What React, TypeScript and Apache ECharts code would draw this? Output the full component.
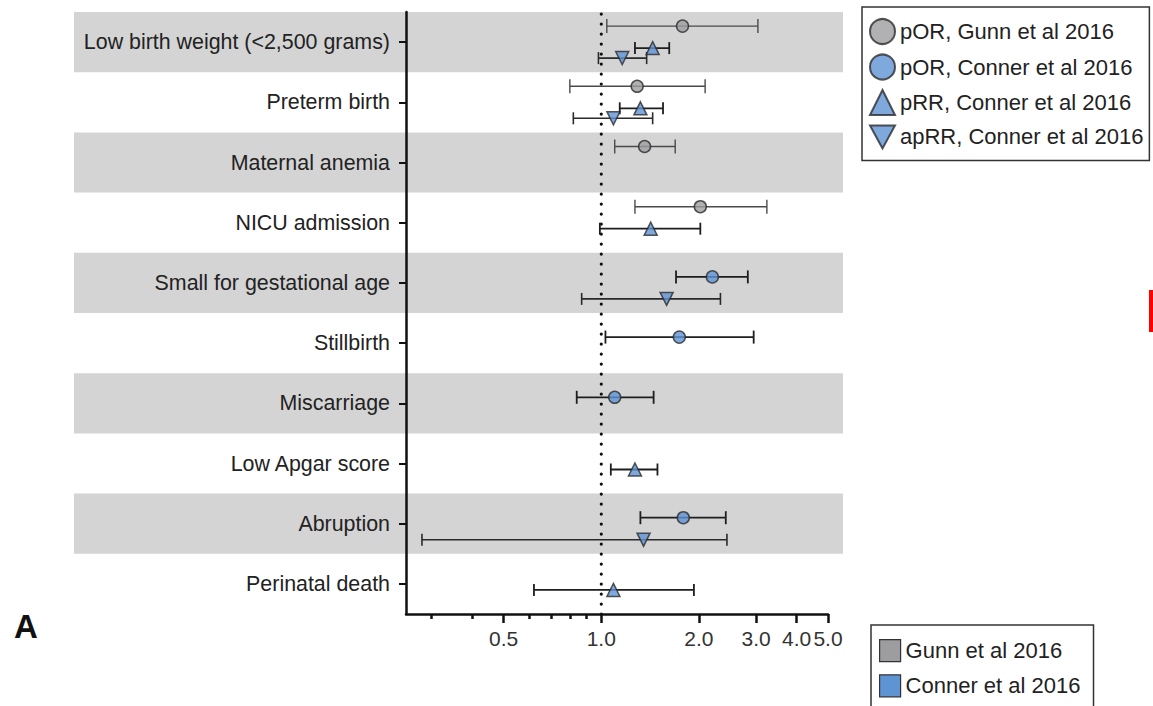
import React, { useEffect, useRef } from "react";
import * as echarts from "echarts";

const categories = [
  "Low birth weight (<2,500 grams)",
  "Preterm birth",
  "Maternal anemia",
  "NICU admission",
  "Small for gestational age",
  "Stillbirth",
  "Miscarriage",
  "Low Apgar score",
  "Abruption",
  "Perinatal death",
];

// pOR, Gunn et al 2016
const gunnPOR = [1.78, 1.29, 1.36, 2.02, null, null, null, null, null, null];
const gunnPORLow = [1.04, 0.8, 1.1, 1.27, null, null, null, null, null, null];
const gunnPORHigh = [3.04, 2.09, 1.69, 3.24, null, null, null, null, null, null];

// pOR, Conner et al 2016
const connerPOR = [null, null, null, null, 2.2, 1.74, 1.1, null, 1.79, null];
const connerPORLow = [null, null, null, null, 1.7, 1.03, 0.84, null, 1.32, null];
const connerPORHigh = [null, null, null, null, 2.83, 2.95, 1.45, null, 2.42, null];

// pRR, Conner et al 2016
const connerPRR = [1.44, 1.32, null, 1.42, null, null, null, 1.27, null, 1.09];
const connerPRRLow = [1.27, 1.14, null, 0.99, null, null, null, 1.07, null, 0.62];
const connerPRRHigh = [1.62, 1.55, null, 2.02, null, null, null, 1.49, null, 1.93];

// apRR, Conner et al 2016
const connerAPRR = [1.16, 1.09, null, null, 1.59, null, null, null, 1.35, null];
const connerAPRRLow = [0.98, 0.82, null, null, 0.87, null, null, null, 0.28, null];
const connerAPRRHigh = [1.38, 1.44, null, null, 2.33, null, null, null, 2.44, null];

const majorTicks = [0.5, 1, 2, 3, 4, 5];
const minorTicks = [0.3, 0.4, 0.6, 0.7, 0.8, 0.9];
const xMinValue = 0.25;
const xMaxValue = 5;
const referenceValue = 1;

const shadedRows = [0, 2, 4, 6, 8];

const FONT = "'Liberation Sans', Arial, Helvetica, sans-serif";
const GRAY = "#9d9da0";
const BLUE = "#5f94d4";
const LMIN = Math.log10(xMinValue);
const LMAX = Math.log10(xMaxValue);
const lg = (v: number) => Math.log10(v);

function points(vals: (number | null)[]) {
  const out: number[][] = [];
  vals.forEach((v, i) => {
    if (v != null) out.push([lg(v), i]);
  });
  return out;
}

function intervals(lo: (number | null)[], hi: (number | null)[]) {
  const out: number[][] = [];
  lo.forEach((v, i) => {
    const h = hi[i];
    if (v != null && h != null) out.push([lg(v), lg(h), i]);
  });
  return out;
}

function errorBar(dy: number, stroke: string, width: number, capH: number) {
  return (params: any, api: any) => {
    const idx = api.value(2);
    const a = api.coord([api.value(0), idx]);
    const b = api.coord([api.value(1), idx]);
    const y = a[1] + dy;
    const style = { stroke, lineWidth: width, fill: "none" };
    return {
      type: "group",
      children: [
        { type: "line", shape: { x1: a[0], y1: y, x2: b[0], y2: y }, style },
        { type: "line", shape: { x1: a[0], y1: y - capH / 2, x2: a[0], y2: y + capH / 2 }, style },
        { type: "line", shape: { x1: b[0], y1: y - capH / 2, x2: b[0], y2: y + capH / 2 }, style },
      ],
    };
  };
}

const DOWN_TRI = "path://M0,0L12,0L6,11Z";

export default function App() {
  const ref = useRef<HTMLDivElement>(null);

  useEffect(() => {
    if (!ref.current) return;
    const chart = echarts.init(ref.current, null, { renderer: "svg" });

    const offsets = { gunn: -16, por: -6, prr: 6, aprr: 16 };
    const markerBase = { borderColor: "#2b2b2b", borderWidth: 1.5 };

    const option: any = {
      animation: false,
      backgroundColor: "#ffffff",
      textStyle: { fontFamily: FONT },
      grid: {
        left: 406,
        right: 1153 - 828,
        top: 12,
        bottom: 706 - 614,
        containLabel: false,
        outerBoundsMode: "none",
      },
      xAxis: [
        {
          type: "value",
          min: LMIN,
          max: LMAX,
          position: "bottom",
          splitLine: { show: false },
          axisLine: { show: true, onZero: false, lineStyle: { color: "#111", width: 2.5 } },
          axisTick: {
            show: true,
            length: 9,
            lineStyle: { color: "#111", width: 2.5 },
            customValues: majorTicks.map(lg),
          },
          axisLabel: {
            show: true,
            customValues: majorTicks.map(lg),
            formatter: (v: number) => Math.pow(10, v).toFixed(1),
            fontSize: 21,
            color: "#333",
            margin: 14,
            fontFamily: FONT,
          },
        },
        {
          type: "value",
          min: LMIN,
          max: LMAX,
          position: "bottom",
          splitLine: { show: false },
          axisLine: { show: false, onZero: false },
          axisTick: {
            show: true,
            length: 5,
            lineStyle: { color: "#111", width: 2.5 },
            customValues: minorTicks.map(lg),
          },
          axisLabel: { show: false },
        },
      ],
      yAxis: {
        type: "category",
        data: categories,
        inverse: true,
        axisLine: { show: true, onZero: false, lineStyle: { color: "#111", width: 2.5 } },
        axisTick: { show: true, alignWithLabel: true, length: 7, lineStyle: { color: "#111", width: 2 } },
        axisLabel: { fontSize: 21.4, color: "#222", margin: 16, fontFamily: FONT },
        splitLine: { show: false },
      },
      legend: [
        {
          orient: "vertical",
          left: 862,
          top: 7,
          itemWidth: 25,
          itemHeight: 25,
          itemGap: 8.5,
          padding: [11, 6, 11, 7],
          borderColor: "#333",
          borderWidth: 1.5,
          textStyle: { fontSize: 22, color: "#222", fontFamily: FONT },
          data: [
            "pOR, Gunn et al 2016",
            "pOR, Conner et al 2016",
            "pRR, Conner et al 2016",
            "apRR, Conner et al 2016",
          ],
          selectedMode: false,
        },
        {
          orient: "vertical",
          left: 871,
          top: 625,
          height: 140,
          itemWidth: 21,
          itemHeight: 22,
          itemGap: 12,
          icon: "rect",
          padding: [14, 13, 14, 8],
          borderColor: "#333",
          borderWidth: 1.5,
          textStyle: { fontSize: 22, color: "#222", fontFamily: FONT },
          data: [
            { name: "Gunn et al 2016", itemStyle: { color: GRAY, borderColor: "#333", borderWidth: 1.2 } },
            { name: "Conner et al 2016", itemStyle: { color: BLUE, borderColor: "#333", borderWidth: 1.2 } },
          ],
          selectedMode: false,
        },
      ],
      graphic: [
        {
          type: "text",
          left: 14,
          top: 610,
          style: { text: "A", fontSize: 33, fontWeight: "bold", fill: "#111", fontFamily: FONT },
        },
        {
          type: "rect",
          shape: { x: 1149, y: 290, width: 4, height: 42 },
          style: { fill: "#ff0000" },
        },
      ],
      series: [
        {
          type: "custom",
          name: "bands",
          z: -10,
          silent: true,
          clip: false,
          encode: { x: 0, y: 1 },
          data: shadedRows.map((i) => [LMAX, i]),
          renderItem: (params: any, api: any) => {
            const c = api.coord([api.value(0), api.value(1)]);
            const h = api.size([0, 1])[1];
            return {
              type: "rect",
              shape: { x: 74, y: c[1] - h / 2, width: c[0] + 15 - 74, height: h },
              style: { fill: "#d4d4d4" },
            };
          },
        },
        {
          type: "custom",
          name: "reference",
          z: 2,
          silent: true,
          clip: false,
          encode: { x: 0, y: 1 },
          data: [[lg(referenceValue), 0]],
          renderItem: (params: any, api: any) => {
            const c = api.coord([api.value(0), 0]);
            const cs = params.coordSys;
            return {
              type: "line",
              shape: { x1: c[0], y1: cs.y + 2, x2: c[0], y2: cs.y + cs.height },
              style: { stroke: "#111", lineWidth: 3.2, lineDash: [0.1, 9.9], lineCap: "round" },
            };
          },
        },
        {
          type: "custom",
          name: "Gunn et al 2016",
          z: 3,
          clip: false,
          itemStyle: { color: GRAY, borderColor: "#333", borderWidth: 1.2 },
          encode: { x: [0, 1], y: 2 },
          data: intervals(gunnPORLow, gunnPORHigh),
          renderItem: errorBar(offsets.gunn, "#4a4a4a", 1.4, 14),
        },
        {
          type: "custom",
          name: "Conner et al 2016",
          z: 3,
          clip: false,
          itemStyle: { color: BLUE, borderColor: "#333", borderWidth: 1.2 },
          encode: { x: [0, 1], y: 2 },
          data: intervals(connerPORLow, connerPORHigh),
          renderItem: errorBar(offsets.por, "#1e1e1e", 1.8, 13),
        },
        {
          type: "custom",
          name: "Conner et al 2016",
          z: 3,
          clip: false,
          itemStyle: { color: BLUE, borderColor: "#333", borderWidth: 1.2 },
          encode: { x: [0, 1], y: 2 },
          data: intervals(connerPRRLow, connerPRRHigh),
          renderItem: errorBar(offsets.prr, "#1e1e1e", 1.8, 12),
        },
        {
          type: "custom",
          name: "Conner et al 2016",
          z: 3,
          clip: false,
          itemStyle: { color: BLUE, borderColor: "#333", borderWidth: 1.2 },
          encode: { x: [0, 1], y: 2 },
          data: intervals(connerAPRRLow, connerAPRRHigh),
          renderItem: errorBar(offsets.aprr, "#2a2a2a", 1.6, 12),
        },
        {
          type: "scatter",
          name: "pOR, Gunn et al 2016",
          z: 5,
          symbol: "circle",
          symbolSize: 12,
          symbolOffset: [0, offsets.gunn],
          itemStyle: { color: GRAY, ...markerBase },
          data: points(gunnPOR),
        },
        {
          type: "scatter",
          name: "pOR, Conner et al 2016",
          z: 5,
          symbol: "circle",
          symbolSize: 12,
          symbolOffset: [0, offsets.por],
          itemStyle: { color: BLUE, ...markerBase },
          data: points(connerPOR),
        },
        {
          type: "scatter",
          name: "pRR, Conner et al 2016",
          z: 5,
          symbol: "triangle",
          symbolSize: 13,
          symbolOffset: [0, offsets.prr],
          itemStyle: { color: BLUE, ...markerBase },
          data: points(connerPRR),
        },
        {
          type: "scatter",
          name: "apRR, Conner et al 2016",
          z: 5,
          symbol: DOWN_TRI,
          symbolSize: 13,
          symbolOffset: [0, offsets.aprr],
          itemStyle: { color: BLUE, ...markerBase },
          data: points(connerAPRR),
        },
      ],
    };

    chart.setOption(option);
    return () => chart.dispose();
  }, []);

  return (
    <div
      ref={ref}
      style={{ position: "fixed", left: 0, top: 0, width: 1153, height: 706, background: "#fff" }}
    />
  );
}
